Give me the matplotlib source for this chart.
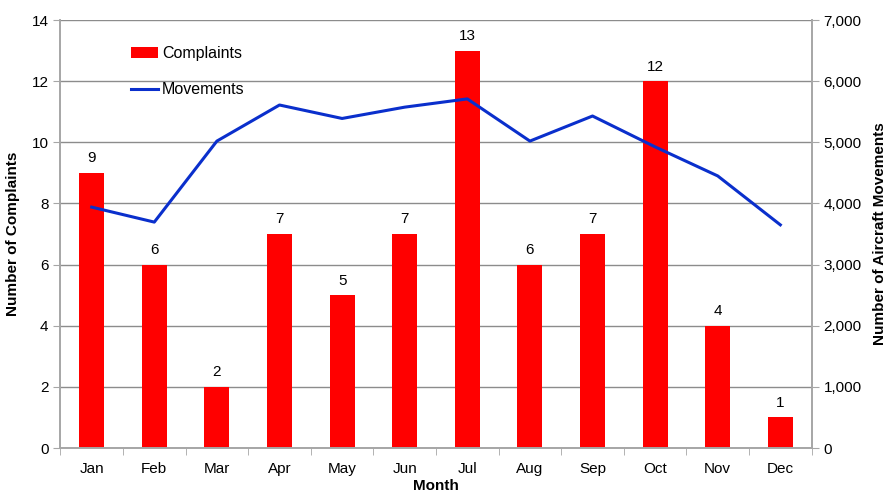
import numpy as np
import matplotlib
matplotlib.use('Agg')
import matplotlib.pyplot as plt
from matplotlib.ticker import FuncFormatter, FixedLocator

plt.rcParams['font.family'] = ['Liberation Sans', 'DejaVu Sans']

# Data
months = ['Jan', 'Feb', 'Mar', 'Apr', 'May', 'Jun', 'Jul', 'Aug', 'Sep', 'Oct', 'Nov', 'Dec']
complaints = [9, 6, 2, 7, 5, 7, 13, 6, 7, 12, 4, 1]
movements = [3940, 3695, 5020, 5610, 5390, 5575, 5710, 5020, 5430, 4925, 4450, 3650]

x = np.arange(len(months))
grey = '#a6a6a6'

fig = plt.figure(figsize=(8.88, 4.92), dpi=100)
ax = fig.add_axes([0.068, 0.0894, 0.846, 0.8699])
ax2 = ax.twinx()

# Bars
bars = ax.bar(x, complaints, width=0.4, color='#ff0000', label='Complaints', zorder=2)
for xi, v in zip(x, complaints):
    ax.text(xi, v + 0.25, str(v), ha='center', va='bottom', fontsize=11)

# Line
line, = ax2.plot(x, movements, color='#0a2fcc', lw=2.2, label='Movements', zorder=3)

ax.set_xlim(-0.5, 11.5)
ax.set_ylim(0, 14)
ax2.set_ylim(0, 7000)
ax.set_yticks(range(0, 15, 2))
ax2.set_yticks(range(0, 7001, 1000))
ax2.yaxis.set_major_formatter(FuncFormatter(lambda v, p: f'{int(v):,}'))

ax.set_xticks(x)
ax.set_xticklabels(months)
ax.xaxis.set_minor_locator(FixedLocator(np.arange(-0.5, 12, 1)))
ax.tick_params(axis='x', which='major', length=0, pad=10, labelsize=11)
ax.tick_params(axis='x', which='minor', length=5, color=grey)
ax.tick_params(axis='y', length=5, color=grey, labelsize=11)
ax2.tick_params(axis='y', length=5, color=grey, labelsize=11)

ax.grid(axis='y', color='#8c8c8c', lw=1, zorder=0)
ax.set_axisbelow(True)

for a in (ax, ax2):
    a.spines['top'].set_visible(False)
    for s in ('left', 'right', 'bottom'):
        a.spines[s].set_color(grey)
        a.spines[s].set_linewidth(1.2)

ax.set_xlabel('Month', fontsize=11, fontweight='bold', labelpad=2)
ax.set_ylabel('Number of Complaints', fontsize=11, fontweight='bold', labelpad=8)
ax2.set_ylabel('Number of Aircraft Movements', fontsize=11, fontweight='bold', labelpad=8)

leg = ax.legend([bars, line], ['Complaints', 'Movements'], loc='upper left',
                bbox_to_anchor=(0.075, 0.972), frameon=False, fontsize=11.5,
                labelspacing=1.3, handlelength=1.7, handletextpad=0.25)

fig.savefig('out.png', dpi=100)
